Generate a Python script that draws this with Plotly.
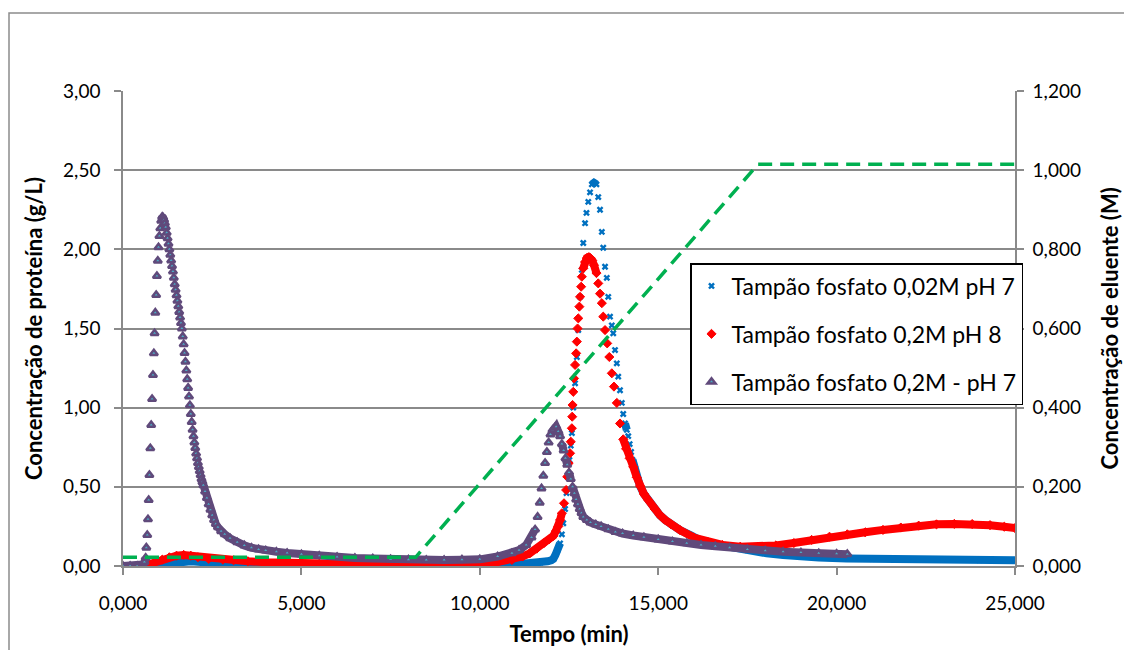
import plotly.graph_objects as go

# ---------------- data ----------------
# (time in min, protein concentration in g/L)
blue_pts = [(0.6,0.0),(0.8,0.005),(1.0,0.012),(1.3,0.022),(1.6,0.03),(1.9,0.03),(2.2,0.025),(2.6,0.02),(3.0,0.016),
            (3.5,0.012),(4.0,0.009),(4.5,0.007),(5.0,0.005),(5.5,0.004),(6.0,0.003),(6.5,0.002),(7.0,0.002),(7.5,0.001),
            (8.0,0.0),(8.5,0.0),(9.0,0.0),(9.5,0.001),(10.0,0.002),(10.5,0.005),(11.0,0.01),(11.4,0.015),(11.7,0.022),
            (11.9,0.03),(12.0,0.036),(12.06,0.045),(12.12,0.07),(12.18,0.10),(12.25,0.143),(12.30,0.2),(12.34,0.27),
            (12.39,0.36),(12.43,0.46),(12.47,0.56),(12.51,0.67),(12.55,0.76),(12.58,0.84),(12.62,1.0),(12.67,1.154),
            (12.72,1.32),(12.76,1.49),(12.81,1.70),(12.86,1.87),(12.90,2.04),(12.95,2.165),(12.99,2.23),(13.04,2.30),
            (13.09,2.36),(13.14,2.41),(13.20,2.42),(13.27,2.41),(13.32,2.33),(13.37,2.25),(13.42,2.11),(13.46,2.01),
            (13.51,1.89),(13.56,1.82),(13.60,1.70),(13.65,1.575),(13.70,1.52),(13.74,1.47),(13.79,1.364),(13.84,1.28),
            (13.88,1.196),(13.93,1.11),(13.98,1.03),(14.02,0.96),(14.07,0.90),(14.12,0.86),(14.16,0.82),(14.20,0.77),
            (14.24,0.72),(14.28,0.67),(14.33,0.63),(14.41,0.56),(14.49,0.505),(14.60,0.455),(14.72,0.417),(14.90,0.36),
            (15.05,0.32),(15.20,0.29),(15.35,0.265),(15.61,0.227),(15.90,0.195),(16.17,0.164),(16.50,0.142),(16.92,0.122),
            (17.5,0.10),(18.04,0.08),(18.5,0.07),(18.97,0.06),(19.5,0.053),(20.28,0.048),(21.0,0.045),(22.15,0.042),
            (23.0,0.04),(24.0,0.038),(25.0,0.037)]

red_pts = [(0.57,0.0),(0.7,0.01),(0.9,0.025),(1.1,0.04),(1.3,0.055),(1.5,0.065),(1.7,0.07),(1.9,0.065),(2.1,0.055),
           (2.4,0.045),(2.8,0.04),(3.1,0.036),(3.5,0.03),(4.0,0.024),(4.5,0.02),(5.0,0.017),(5.5,0.014),(6.0,0.011),
           (6.5,0.009),(7.0,0.008),(7.5,0.006),(8.0,0.004),(8.5,0.003),(9.0,0.004),(9.5,0.01),(10.0,0.015),(10.5,0.025),
           (10.9,0.038),(11.2,0.06),(11.4,0.08),(11.6,0.11),(11.8,0.145),(11.95,0.17),(12.06,0.19),(12.13,0.22),
           (12.20,0.25),(12.25,0.29),(12.30,0.333),(12.36,0.396),(12.42,0.48),(12.45,0.564),(12.49,0.649),(12.53,0.712),
           (12.55,0.785),(12.58,0.87),(12.59,0.943),(12.60,1.017),(12.62,1.10),(12.64,1.185),(12.67,1.27),(12.70,1.343),
           (12.72,1.417),(12.74,1.50),(12.76,1.564),(12.79,1.638),(12.81,1.70),(12.84,1.764),(12.86,1.827),(12.90,1.88),
           (12.95,1.92),(13.00,1.945),(13.05,1.95),(13.10,1.945),(13.15,1.93),(13.20,1.90),(13.27,1.85),(13.32,1.785),
           (13.37,1.72),(13.42,1.66),(13.46,1.575),(13.51,1.49),(13.57,1.406),(13.63,1.32),(13.70,1.217),(13.76,1.133),
           (13.84,1.03),(13.93,0.90),(14.02,0.80),(14.10,0.74),(14.20,0.68),(14.30,0.627),(14.40,0.56),(14.49,0.505),
           (14.60,0.455),(14.72,0.417),(14.90,0.36),(15.05,0.32),(15.20,0.29),(15.35,0.265),(15.61,0.227),(16.0,0.18),
           (16.4,0.15),(16.8,0.133),(17.3,0.122),(17.8,0.122),(18.3,0.13),(18.8,0.145),(19.3,0.165),(19.8,0.185),
           (20.3,0.2),(20.8,0.213),(21.3,0.228),(21.8,0.243),(22.3,0.255),(22.8,0.263),(23.3,0.266),(23.8,0.265),
           (24.3,0.258),(24.7,0.248),(25.0,0.24)]

purple_pts = [(0.0,0.0),(0.2,0.0),(0.4,0.0),(0.55,0.01),(0.6,0.025),(0.635,0.052),(0.654,0.116),(0.68,0.196),(0.70,0.295),
              (0.72,0.417),(0.74,0.575),(0.765,0.743),(0.79,0.89),(0.815,1.055),(0.84,1.206),(0.865,1.343),(0.885,1.47),
              (0.905,1.60),(0.93,1.712),(0.95,1.832),(0.975,1.928),(0.995,2.013),(1.02,2.084),(1.045,2.133),(1.07,2.181),
              (1.10,2.206),(1.125,2.20),(1.15,2.185),(1.175,2.165),(1.20,2.14),(1.225,2.105),(1.25,2.07),(1.275,2.035),
              (1.30,2.00),(1.325,1.965),(1.35,1.93),(1.375,1.895),(1.40,1.86),(1.425,1.82),(1.45,1.78),(1.475,1.745),
              (1.50,1.71),(1.525,1.675),(1.55,1.64),(1.575,1.605),(1.60,1.57),(1.625,1.535),(1.65,1.50),(1.675,1.45),
              (1.70,1.40),(1.725,1.345),(1.75,1.29),(1.775,1.235),(1.80,1.18),(1.825,1.125),(1.85,1.07),(1.875,1.015),
              (1.90,0.96),(1.925,0.91),(1.95,0.86),(1.975,0.82),(2.00,0.78),(2.025,0.745),(2.05,0.71),(2.075,0.68),
              (2.10,0.65),(2.125,0.625),(2.15,0.60),(2.175,0.575),(2.20,0.55),(2.225,0.53),(2.25,0.51),(2.30,0.47),
              (2.35,0.43),(2.40,0.39),(2.45,0.355),(2.50,0.32),(2.55,0.29),(2.60,0.265),(2.66,0.245),(2.75,0.22),
              (2.85,0.20),(3.0,0.175),(3.2,0.15),(3.4,0.13),(3.6,0.115),(3.8,0.105),(4.0,0.098),(4.3,0.09),(4.6,0.082),
              (5.0,0.074),(5.5,0.064),(6.0,0.057),(6.5,0.051),(7.0,0.047),(7.5,0.043),(8.0,0.04),(8.5,0.038),(9.0,0.038),
              (9.5,0.040),(10.0,0.042),(10.5,0.06),(10.9,0.08),(11.1,0.10),(11.3,0.133),(11.45,0.18),(11.55,0.23),
              (11.62,0.31),(11.68,0.40),(11.73,0.49),(11.78,0.57),(11.83,0.65),(11.88,0.72),(11.93,0.78),(11.98,0.83),
              (12.04,0.86),(12.10,0.875),(12.14,0.88),(12.20,0.85),(12.25,0.82),(12.30,0.77),(12.35,0.73),(12.40,0.68),
              (12.45,0.64),(12.50,0.59),(12.55,0.55),(12.60,0.50),(12.65,0.46),(12.70,0.42),(12.75,0.39),(12.80,0.36),
              (12.85,0.335),(12.90,0.31),(13.0,0.29),(13.1,0.275),(13.25,0.262),(13.4,0.25),(13.6,0.232),(13.8,0.215),
              (14.0,0.205),(14.3,0.193),(14.6,0.182),(15.0,0.168),(15.4,0.155),(15.8,0.143),(16.2,0.133),(16.6,0.125),
              (17.0,0.115),(17.5,0.105),(18.0,0.097),(18.5,0.09),(19.0,0.085),(19.5,0.08),(20.0,0.077),(20.3,0.075)]

# eluent concentration (M), right axis
eluent_t = [0.0, 8.2, 17.8, 25.0]
eluent_c = [0.022, 0.022, 1.015, 1.015]

names = ["Tampão fosfato 0,02M pH 7", "Tampão fosfato 0,2M pH 8", "Tampão fosfato 0,2M - pH 7"]
x_ticks = [0, 5, 10, 15, 20, 25]

# ---------------- layout geometry ----------------
W, H = 1124, 650
L, R, T, B = 123, 109, 91, 84
X_RANGE, Y_RANGE, Y2_RANGE = [0, 25], [0, 3], [0, 1.2]
PX_PER_X = (W - L - R) / (X_RANGE[1] - X_RANGE[0])
PX_PER_Y = (H - T - B) / (Y_RANGE[1] - Y_RANGE[0])

FONT = "Lato"
GRID = "#8a8a8a"


def unzip(pts):
    return [p[0] for p in pts], [p[1] for p in pts]


def band(t, v, max_slope=4.0):
    """Continuous thick band where the original dense markers overlap (gentle slope)."""
    xs, ys = [], []
    for i in range(len(t)):
        if i > 0:
            dx = (t[i] - t[i - 1]) * PX_PER_X
            dy = abs(v[i] - v[i - 1]) * PX_PER_Y
            if dy > max_slope * max(dx, 1e-9):
                xs.append(None)
                ys.append(None)
        xs.append(t[i])
        ys.append(v[i])
    return xs, ys


fig = go.Figure()

series = [
    (blue_pts, names[0], "#0070C0", dict(symbol="x", size=6, color="#0070C0", line=dict(width=0)), 8),
    (red_pts, names[1], "#FF0000", dict(symbol="diamond", size=7, color="#FF0000", line=dict(width=1, color="#FF0000")), 8),
    (purple_pts, names[2], "#604A7B", dict(symbol="triangle-up", size=7, color="#4BACC6", line=dict(width=2.5, color="#604A7B")), 8),
]

for i, (pts, name, col, mk, bw) in enumerate(series):
    t, v = unzip(pts)
    bx, by = band(t, v)
    fig.add_trace(go.Scatter(x=bx, y=by, mode="lines", line=dict(color=col, width=bw),
                             showlegend=False, hoverinfo="skip", connectgaps=False))
    fig.add_trace(go.Scatter(x=t, y=v, mode="markers", marker=mk, name=name,
                             legendgroup=f"g{i}"))

fig.add_trace(go.Scatter(x=eluent_t, y=eluent_c, mode="lines", yaxis="y2", showlegend=False,
                         line=dict(color="#00B050", width=3.5, dash="14px,8px")))

tickfont = dict(family=FONT, size=19, color="black")
titlefont = dict(family=FONT, size=22, color="black", weight="bold")

fig.update_layout(
    template="none",
    width=W, height=H,
    margin=dict(l=L, r=R, t=T, b=B, autoexpand=False),
    paper_bgcolor="white", plot_bgcolor="white",
    separators=", ",
    font=dict(family=FONT, color="black"),
    showlegend=True,
    legend=dict(x=(690 - L) / (W - L - R), y=(H - B - 263) / (H - T - B), xanchor="left", yanchor="top",
                bgcolor="white", bordercolor="black", borderwidth=1.5,
                font=dict(family=FONT, size=23, color="black"),
                itemsizing="trace", tracegroupgap=15, itemwidth=30),
    xaxis=dict(range=X_RANGE, tickvals=x_ticks, tickformat=".3f", ticks="outside", ticklen=7,
               tickcolor=GRID, tickwidth=1.5, showline=True, linecolor=GRID, linewidth=1.5,
               showgrid=False, zeroline=False, tickfont=tickfont, automargin=False,
               ticklabelstandoff=12,
               title=dict(text="Tempo (min)", font=titlefont, standoff=14)),
    yaxis=dict(range=Y_RANGE, dtick=0.5, tickformat=".2f", ticks="outside", ticklen=7,
               tickcolor=GRID, tickwidth=1.5, showline=True, linecolor=GRID, linewidth=1.5,
               showgrid=True, gridcolor=GRID, gridwidth=1.5, zeroline=False, tickfont=tickfont,
               automargin=False, ticklabelstandoff=10,
               title=dict(text="Concentração de proteína (g/L)", font=titlefont, standoff=14)),
    yaxis2=dict(range=Y2_RANGE, dtick=0.2, tickformat=".3f", overlaying="y", side="right",
                ticks="outside", ticklen=7, tickcolor=GRID, tickwidth=1.5, showline=True,
                linecolor=GRID, linewidth=1.5, showgrid=False, zeroline=False, tickfont=tickfont,
                automargin=False, ticklabelstandoff=5),
)

pw, ph = W - L - R, H - T - B

# right axis title, kept fully inside the window near its right edge
fig.add_annotation(text="Concentração de eluente (M)", xref="paper", yref="paper",
                   x=(1109 - L) / pw, y=0.5, xanchor="center", yanchor="middle",
                   textangle=-90, showarrow=False, font=titlefont)

# outer chart-area border (partly outside the window, as in the reference)
fig.add_shape(type="rect", xref="paper", yref="paper",
              x0=(9 - L) / pw, x1=(W + 20 - L) / pw, y0=(H - B - (H + 20)) / ph, y1=(H - B - 13) / ph,
              line=dict(color="#8c8c8c", width=1.5), fillcolor="rgba(0,0,0,0)", layer="below")

fig.write_html("out.html", config={"displayModeBar": False},
               post_script="document.body.style.margin='0';document.body.style.overflow='hidden';")
